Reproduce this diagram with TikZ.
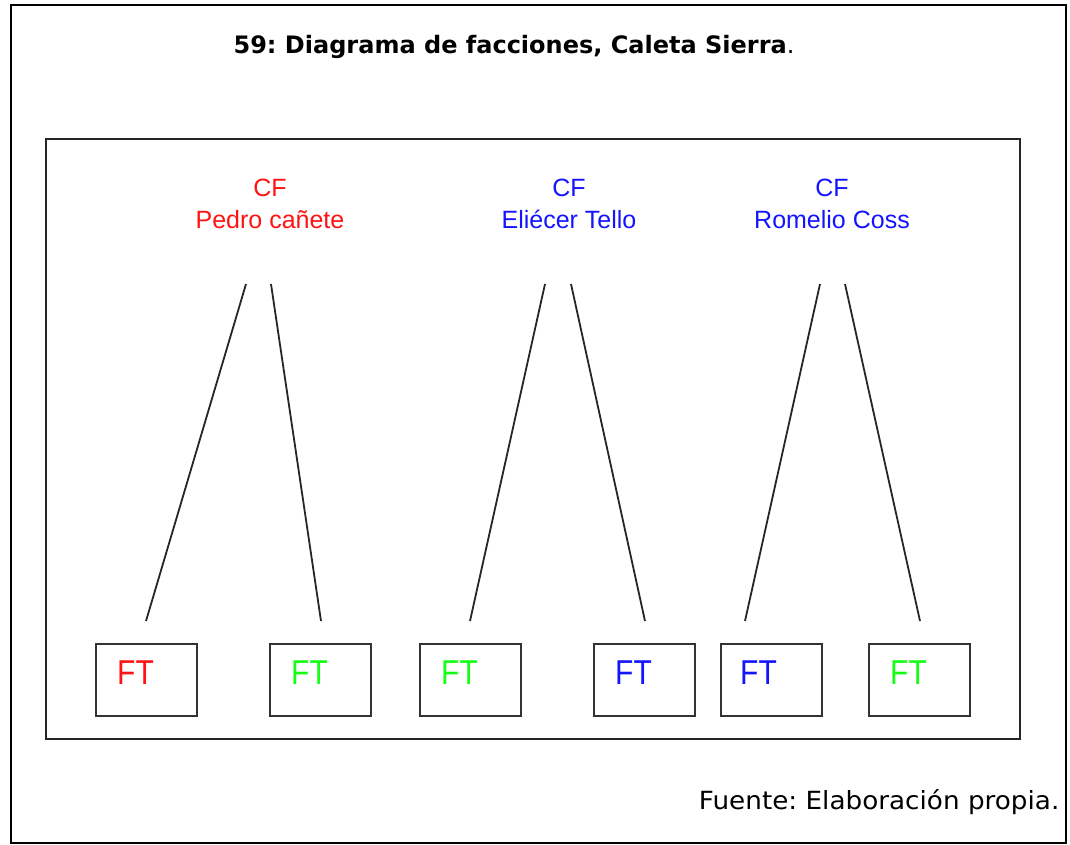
\documentclass[tikz,border=0pt]{standalone}
\usepackage{fontspec}
\setmainfont{DejaVu Sans}
\newfontfamily\arialf{Liberation Sans}
\definecolor{cfred}{RGB}{255,20,20}
\definecolor{cfblue}{RGB}{20,20,255}
\definecolor{ftgreen}{RGB}{20,255,20}
\frenchspacing
\begin{document}
\begin{tikzpicture}[x=1pt,y=-1pt,
  frame/.style={draw=black!85,line width=2pt},
  ftbox/.style={draw=black!80,line width=2pt,minimum width=101pt,minimum height=72pt,inner sep=0pt},
  ftlab/.style={font=\arialf\fontsize{30}{30}\selectfont,anchor=west,inner sep=0pt,yscale=1.15},
  cflab/.style={font=\arialf\fontsize{25}{32}\selectfont,align=center,inner sep=0pt},
  link/.style={draw=black!85,line width=1.8pt}]
\useasboundingbox (0,0) rectangle (1070,845);
\fill[white] (0,0) rectangle (1070,845);
\draw[frame,line width=1.6pt,draw=black] (11,5) rectangle (1066,843);
\draw[frame] (46,139) rectangle (1020,739);
% title
\node[font=\bfseries\fontsize{24}{28}\selectfont] (title) at (514,47) {59: Diagrama de facciones, Caleta Sierra{\mdseries .}};
\node[font=\fontsize{25}{28}\selectfont,anchor=east,xscale=1.05] (src) at (1063,802) {Fuente: Elaboración propia.};
% CF labels
\node[cflab,text=cfred] (cf1) at (270,204) {CF\\Pedro cañete};
\node[cflab,text=cfblue] (cf2) at (569,204) {CF\\Eliécer Tello};
\node[cflab,text=cfblue] (cf3) at (832,204) {CF\\Romelio Coss};
% FT boxes
\node[ftbox] (b1) at (146,680) {};
\node[ftbox] (b2) at (320.5,680) {};
\node[ftbox] (b3) at (470.5,680) {};
\node[ftbox] (b4) at (644.5,680) {};
\node[ftbox] (b5) at (771,680) {};
\node[ftbox] (b6) at (919.5,680) {};
\node[ftlab,text=cfred] (t1) at (117,673) {FT};
\node[ftlab,text=ftgreen] (t2) at (291,673) {FT};
\node[ftlab,text=ftgreen] (t3) at (441,673) {FT};
\node[ftlab,text=cfblue] (t4) at (615,673) {FT};
\node[ftlab,text=cfblue] (t5) at (740,673) {FT};
\node[ftlab,text=ftgreen] (t6) at (890,673) {FT};
% connector ends
\coordinate (a1) at (246,284); \coordinate (a2) at (271,284);
\coordinate (a3) at (545,284); \coordinate (a4) at (571,284);
\coordinate (a5) at (820,284); \coordinate (a6) at (845,284);
\coordinate (e1) at (146,621); \coordinate (e2) at (321,621);
\coordinate (e3) at (470,621); \coordinate (e4) at (645,621);
\coordinate (e5) at (745,621); \coordinate (e6) at (920,621);
\draw[link] (a1) -- (e1);
\draw[link] (a2) -- (e2);
\draw[link] (a3) -- (e3);
\draw[link] (a4) -- (e4);
\draw[link] (a5) -- (e5);
\draw[link] (a6) -- (e6);
\end{tikzpicture}
\end{document}
